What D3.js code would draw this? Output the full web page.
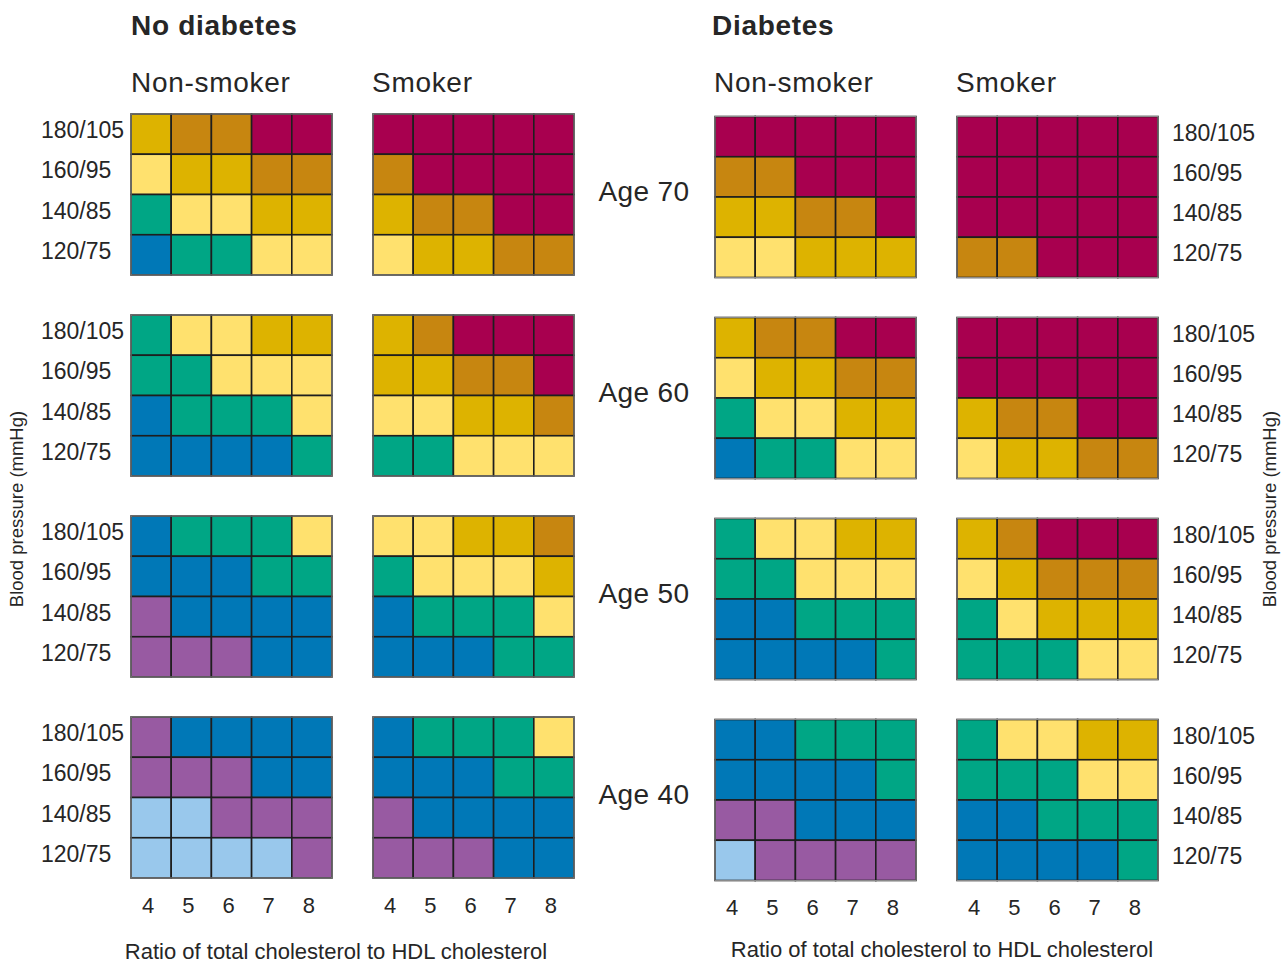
<!DOCTYPE html>
<html>
<head>
<meta charset="utf-8">
<script src="https://cdn.jsdelivr.net/npm/d3@7/dist/d3.min.js"></script>
<style>
  html, body { margin: 0; padding: 0; background: #fff; }
  svg text { font-family: "Liberation Sans", Arial, sans-serif; fill: #262626; }
</style>
</head>
<body>
<svg id="chart" width="1288" height="963"></svg>
<script>
// ---------------- data ----------------
const ageLabels = ["Age 70", "Age 60", "Age 50", "Age 40"];
const ratioTicks = [4, 5, 6, 7, 8];
const bpLabels = ["180/105", "160/95", "140/85", "120/75"];
const groupTitles = ["No diabetes", "Diabetes"];
const smokingTitles = ["Non-smoker", "Smoker"];
const xAxisTitle = "Ratio of total cholesterol to HDL cholesterol";
const yAxisTitle = "Blood pressure (mmHg)";

// risk level index (0 = lowest ... 7 = highest); per age: rows 180/105 -> 120/75, cols ratio 4 -> 8
const riskLevels = [0, 1, 2, 3, 4, 5, 6, 7];
const riskColors = ["#99c8ec", "#985aa2", "#0078b7", "#00a685", "#ffe16e", "#ddb300", "#c78610", "#a8004f"];

const noDiabetesNonSmoker = [
  [[5,6,6,7,7],[4,5,5,6,6],[3,4,4,5,5],[2,3,3,4,4]],
  [[3,4,4,5,5],[3,3,4,4,4],[2,3,3,3,4],[2,2,2,2,3]],
  [[2,3,3,3,4],[2,2,2,3,3],[1,2,2,2,2],[1,1,1,2,2]],
  [[1,2,2,2,2],[1,1,1,2,2],[0,0,1,1,1],[0,0,0,0,1]]
];
const noDiabetesSmoker = [
  [[7,7,7,7,7],[6,7,7,7,7],[5,6,6,7,7],[4,5,5,6,6]],
  [[5,6,7,7,7],[5,5,6,6,7],[4,4,5,5,6],[3,3,4,4,4]],
  [[4,4,5,5,6],[3,4,4,4,5],[2,3,3,3,4],[2,2,2,3,3]],
  [[2,3,3,3,4],[2,2,2,3,3],[1,2,2,2,2],[1,1,1,2,2]]
];
const diabetesNonSmoker = [
  [[7,7,7,7,7],[6,6,7,7,7],[5,5,6,6,7],[4,4,5,5,5]],
  [[5,6,6,7,7],[4,5,5,6,6],[3,4,4,5,5],[2,3,3,4,4]],
  [[3,4,4,5,5],[3,3,4,4,4],[2,2,3,3,3],[2,2,2,2,3]],
  [[2,2,3,3,3],[2,2,2,2,3],[1,1,2,2,2],[0,1,1,1,1]]
];
const diabetesSmoker = [
  [[7,7,7,7,7],[7,7,7,7,7],[7,7,7,7,7],[6,6,7,7,7]],
  [[7,7,7,7,7],[7,7,7,7,7],[5,6,6,7,7],[4,5,5,6,6]],
  [[5,6,7,7,7],[4,5,6,6,6],[3,4,5,5,5],[3,3,3,4,4]],
  [[3,4,4,5,5],[3,3,3,4,4],[2,2,3,3,3],[2,2,2,2,3]]
];

// ---------------- layout ----------------
const svg = d3.select("#chart");
const color = d3.scaleOrdinal().domain(riskLevels).range(riskColors);

const panelW = 201, panelH = 161;
const panels = [
  { data: noDiabetesNonSmoker, x0: 131, yOff: 0, group: 0, smoke: 0 },
  { data: noDiabetesSmoker,    x0: 373, yOff: 0, group: 0, smoke: 1 },
  { data: diabetesNonSmoker,   x0: 715, yOff: 2.5, group: 1, smoke: 0 },
  { data: diabetesSmoker,      x0: 957, yOff: 2.5, group: 1, smoke: 1 }
];
const ageY = d3.scaleBand().domain(ageLabels).range([114, 114 + 201 * 4]).paddingInner(0);

const x = d3.scaleBand().domain(ratioTicks).range([0, panelW]);
const y = d3.scaleBand().domain(bpLabels).range([0, panelH]);

panels.forEach(p => {
  ageLabels.forEach((age, ai) => {
    const g = svg.append("g")
      .attr("transform", `translate(${p.x0},${ageY(age) + p.yOff})`);
    const cells = [];
    p.data[ai].forEach((row, ri) => row.forEach((v, ci) => cells.push({ bp: bpLabels[ri], r: ratioTicks[ci], v })));
    g.selectAll("rect.cell").data(cells).join("rect")
      .attr("class", "cell")
      .attr("x", d => x(d.r))
      .attr("y", d => y(d.bp))
      .attr("width", x.bandwidth())
      .attr("height", y.bandwidth())
      .attr("fill", d => color(d.v))
      .attr("stroke", "#1e1e1e")
      .attr("stroke-width", 1.6);
    g.append("rect")
      .attr("x", 0).attr("y", 0)
      .attr("width", panelW).attr("height", panelH)
      .attr("fill", "none").attr("stroke", "#8a8a8a").attr("stroke-width", 1);

    // BP labels on outer sides
    if (p.x0 === 131 || p.x0 === 957) {
      const left = p.x0 === 131;
      g.selectAll("text.bp").data(bpLabels).join("text")
        .attr("class", "bp")
        .attr("x", left ? -90 : panelW + 14)
        .attr("y", d => y(d) + y.bandwidth() / 2 - 4)
        .attr("dy", "0.35em")
        .attr("font-size", 23)
        .attr("fill", "#333")
        .text(d => d);
    }
  });

  // x tick labels under bottom panel
  const gx = svg.append("g")
    .attr("transform", `translate(${p.x0},${ageY(ageLabels[3]) + p.yOff + panelH})`);
  gx.selectAll("text").data(ratioTicks).join("text")
    .attr("x", d => x(d) + x.bandwidth() / 2 - 3)
    .attr("y", 27)
    .attr("dy", "0.35em")
    .attr("text-anchor", "middle")
    .attr("font-size", 22)
    .attr("fill", "#333")
    .text(d => d);

  // smoking titles
  svg.append("text")
    .attr("x", p.x0 + (p.smoke ? -1 : 1 * (p.group ? -1 : 0)))
    .attr("y", 92)
    .attr("font-size", 28)
    .attr("letter-spacing", 0.7)
    .text(smokingTitles[p.smoke]);
});

// Age labels in the middle
svg.selectAll("text.age").data(ageLabels).join("text")
  .attr("class", "age")
  .attr("x", 644)
  .attr("y", d => ageY(d) + 77)
  .attr("dy", "0.35em")
  .attr("text-anchor", "middle")
  .attr("font-size", 28)
  .attr("letter-spacing", 0.4)
  .text(d => d);

// Group titles
svg.selectAll("text.grp").data(groupTitles).join("text")
  .attr("class", "grp")
  .attr("x", (d, i) => i ? 712 : 131)
  .attr("y", 35)
  .attr("font-size", 28)
  .attr("font-weight", "bold")
  .attr("letter-spacing", 0.7)
  .text(d => d);

// x axis titles
[336, 942].forEach((cx, i) => {
  svg.append("text")
    .attr("x", cx)
    .attr("y", i ? 949 : 951)
    .attr("dy", "0.35em")
    .attr("text-anchor", "middle")
    .attr("font-size", 22)
    .attr("fill", "#333")
    .text(xAxisTitle);
});

// y axis titles
[17, 1270].forEach(cx => {
  svg.append("text")
    .attr("transform", `translate(${cx},509) rotate(-90)`)
    .attr("dy", "0.35em")
    .attr("text-anchor", "middle")
    .attr("font-size", 18.5)
    .attr("fill", "#333")
    .text(yAxisTitle);
});
</script>
</body>
</html>
